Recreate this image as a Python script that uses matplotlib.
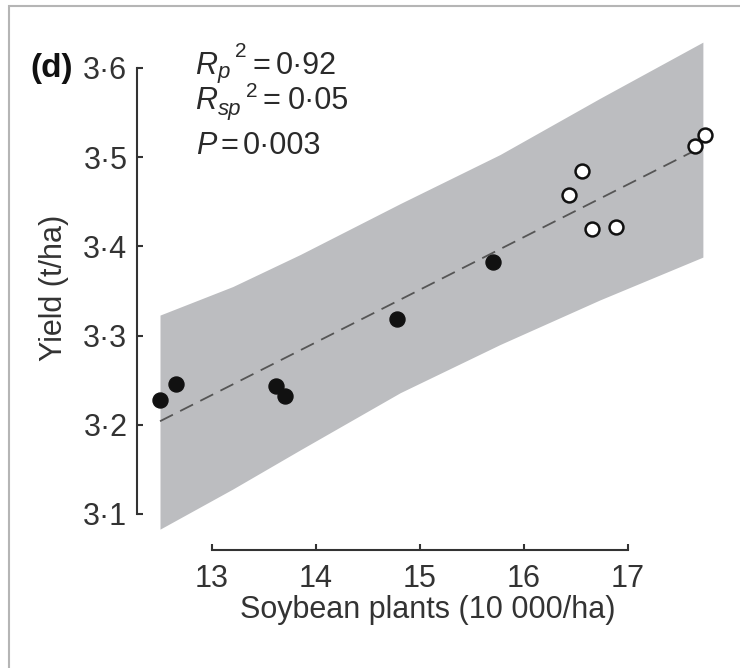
import matplotlib
matplotlib.use("Agg")
import matplotlib.pyplot as plt
from matplotlib.patches import Rectangle

plt.rcParams['font.family'] = ['Liberation Sans', 'DejaVu Sans']

# data
filled_x = [12.50, 12.65, 13.62, 13.70, 14.78, 15.70]
filled_y = [3.228, 3.246, 3.243, 3.232, 3.319, 3.383]
open_x = [16.43, 16.56, 16.65, 16.88, 17.64, 17.74]
open_y = [3.458, 3.484, 3.419, 3.422, 3.513, 3.525]

band_x = [12.50, 13.20, 13.85, 14.81, 15.77, 16.73, 17.72]
band_upper = [3.323, 3.355, 3.391, 3.448, 3.503, 3.566, 3.629]
band_lower = [3.083, 3.128, 3.172, 3.236, 3.290, 3.340, 3.388]

fit_x = [12.50, 17.72]
fit_y = [3.204, 3.512]

xticks = [13, 14, 15, 16, 17]
yticks = [3.1, 3.2, 3.3, 3.4, 3.5, 3.6]
ytick_labels = ['3·1', '3·2', '3·3', '3·4', '3·5', '3·6']

W, H = 740, 668
fig = plt.figure(figsize=(W / 100, H / 100), dpi=100)
# axes placed so that 13 -> 212px, 17 -> 628px, 3.6 -> 68px, 3.1 -> 514px
ax = fig.add_axes([128.8 / W, (H - 558.6) / H, (716.4 - 128.8) / W, (558.6 - 23.4) / H])
ax.set_xlim(12.2, 17.85)
ax.set_ylim(3.05, 3.65)

ax.fill_between(band_x, band_lower, band_upper, color='#bcbdc0', lw=0, zorder=1)
line, = ax.plot(fit_x, fit_y, color='#555555', lw=1.3, zorder=2)
line.set_dashes([8, 4.5])
ax.plot(filled_x, filled_y, 'o', ms=10.8, mfc='#111111', mec='#111111', mew=1, zorder=3)
ax.plot(open_x, open_y, 'o', ms=10, mfc='white', mec='#111111', mew=1.8, zorder=3)

for s in ['top', 'right']:
    ax.spines[s].set_visible(False)
ax.spines['left'].set_position(('data', 12.28))
ax.spines['bottom'].set_position(('data', 3.06))
ax.spines['left'].set_bounds(3.1, 3.6)
ax.spines['bottom'].set_bounds(13, 17)
for s in ['left', 'bottom']:
    ax.spines[s].set_linewidth(1.5)
    ax.spines[s].set_color('#333333')

ax.set_xticks(xticks)
ax.set_xticklabels([str(t) for t in xticks])
ax.set_yticks(yticks)
ax.set_yticklabels(ytick_labels)
ax.tick_params(direction='in', length=4, width=1.5, color='#333333',
               labelsize=22, labelcolor='#333333')
ax.tick_params(axis='x', pad=10)
ax.tick_params(axis='y', pad=7)
ax.set_facecolor('none')

fig.text(428 / W, 1 - 610 / H, 'Soybean plants (10 000/ha)',
         ha='center', va='center', fontsize=22, color='#333333')
fig.text(54 / W, 1 - 288 / H, 'Yield (t/ha)', rotation=90,
         ha='center', va='center', fontsize=22, color='#333333')

fig.text(30 / W, 1 - 68 / H, '(d)', ha='left', va='center', fontsize=24,
         fontweight='bold', color='#111111')


def put(x, y, s, size=22, italic=False):
    # place a piece of the statistics block at pixel position (baseline)
    fig.text(x / W, 1 - y / H, s, ha='left', va='baseline', fontsize=size,
             style='italic' if italic else 'normal', color='#2a2a2a')


# R_p^2 = 0·92
put(195, 74, 'R', italic=True)
put(218, 78, 'p', size=16, italic=True)
put(235, 57, '2', size=15)
put(252, 74, '=')
put(276, 74, '0·92')
# R_sp^2 = 0·05
put(195, 109, 'R', italic=True)
put(218, 115, 'sp', size=16, italic=True)
put(246, 97, '2', size=15)
put(263, 109, '=')
put(288, 109, '0·05')
# P = 0·003
put(196, 154, 'P', italic=True)
put(220, 154, '=')
put(243, 154, '0·003')

fig.add_artist(Rectangle((9 / W, -0.1), 1.2, (H - 6) / H + 0.1, transform=fig.transFigure,
                         fill=False, edgecolor='#b5b5b5', lw=1.5, clip_on=False))

fig.savefig('out.png', dpi=100)
